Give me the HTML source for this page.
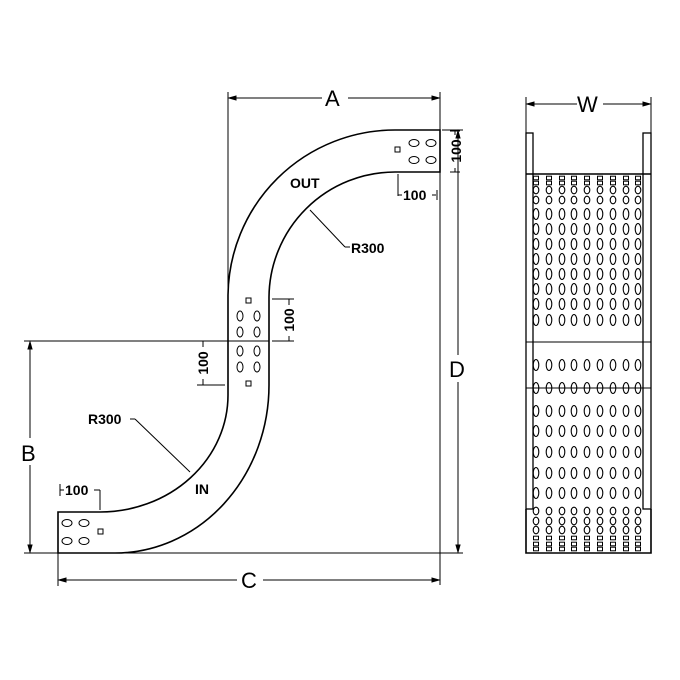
<!DOCTYPE html>
<html><head><meta charset="utf-8"><style>
html,body{margin:0;padding:0;background:#fff}
svg{display:block}
text{font-family:"Liberation Sans",Arial,sans-serif;fill:#000}
</style></head><body>
<svg width="680" height="680" viewBox="0 0 680 680" xmlns="http://www.w3.org/2000/svg">
<defs>
<ellipse id="t" cx="0" cy="0" rx="2.8" ry="5.5" fill="none" stroke="#000" stroke-width="1.1"/>
<ellipse id="m" cx="0" cy="0" rx="2.8" ry="3.8" fill="none" stroke="#000" stroke-width="1.1"/>
<rect id="s" x="-2.5" y="-1.8" width="5" height="3.6" fill="none" stroke="#000" stroke-width="1"/>
<g id="rowT"><use href="#t" x="536"/><use href="#t" x="549"/><use href="#t" x="562"/><use href="#t" x="574"/><use href="#t" x="587"/><use href="#t" x="600"/><use href="#t" x="613"/><use href="#t" x="626"/><use href="#t" x="638"/></g>
<g id="rowM"><use href="#m" x="536"/><use href="#m" x="549"/><use href="#m" x="562"/><use href="#m" x="574"/><use href="#m" x="587"/><use href="#m" x="600"/><use href="#m" x="613"/><use href="#m" x="626"/><use href="#m" x="638"/></g>
<g id="rowS"><use href="#s" x="536"/><use href="#s" x="549"/><use href="#s" x="562"/><use href="#s" x="574"/><use href="#s" x="587"/><use href="#s" x="600"/><use href="#s" x="613"/><use href="#s" x="626"/><use href="#s" x="638"/></g>
</defs>
<g fill="none" stroke="#000" stroke-width="1.6">
<path d="M228,341 L228,295 A167,167 0 0 1 395,130 L440,130 L440,172 L395,172 A126,126 0 0 0 269,297 L269,341"/>
<path d="M228,341 L228,395 A128,117 0 0 1 100,512 L58,512 L58,553 L115,553 A154,168 0 0 0 269,385 L269,341"/>
<line x1="228" y1="341" x2="269" y2="341" stroke-width="1"/>
</g>
<g fill="none" stroke="#000" stroke-width="1">
<line x1="228" y1="92" x2="228" y2="295"/>
<line x1="440" y1="92" x2="440" y2="130"/>
<line x1="229" y1="98" x2="322" y2="98"/><line x1="348" y1="98" x2="439" y2="98"/>
<path d="M229,98 l7,-2 v4z M439,98 l-7,-2 v4z" fill="#000"/>
<line x1="442" y1="130" x2="463" y2="130"/>
<line x1="115" y1="553" x2="463" y2="553"/>
<line x1="440" y1="172" x2="440" y2="585"/>
<line x1="458" y1="131" x2="458" y2="355"/><line x1="458" y1="382" x2="458" y2="552"/>
<path d="M458,131 l-2,7 h4z M458,552 l-2,-7 h4z" fill="#000"/>
<line x1="24" y1="341" x2="228" y2="341"/>
<line x1="24" y1="553" x2="58" y2="553"/>
<line x1="30" y1="342" x2="30" y2="438"/><line x1="30" y1="465" x2="30" y2="552"/>
<path d="M30,342 l-2,7 h4z M30,552 l-2,-7 h4z" fill="#000"/>
<line x1="58" y1="553" x2="58" y2="586"/>
<line x1="59" y1="580" x2="237" y2="580"/><line x1="263" y1="580" x2="439" y2="580"/>
<path d="M59,580 l7,-2 v4z M439,580 l-7,-2 v4z" fill="#000"/>
<line x1="526" y1="97" x2="526" y2="133"/><line x1="651" y1="97" x2="651" y2="133"/>
<line x1="527" y1="104" x2="577" y2="104"/><line x1="603" y1="104" x2="650" y2="104"/>
<path d="M527,104 l7,-2 v4z M650,104 l-7,-2 v4z" fill="#000"/>
<line x1="398" y1="174" x2="398" y2="196"/><line x1="398" y1="195" x2="402" y2="195"/><line x1="432" y1="195" x2="436" y2="195"/><line x1="437" y1="190" x2="437" y2="200"/>
<line x1="455" y1="131" x2="455" y2="135"/><line x1="455" y1="168" x2="455" y2="172"/><line x1="450" y1="131" x2="460" y2="131"/><line x1="450" y1="172" x2="460" y2="172"/>
<line x1="272" y1="299" x2="294" y2="299"/><line x1="289" y1="299" x2="289" y2="305"/><line x1="289" y1="336" x2="289" y2="341"/><line x1="272" y1="341" x2="294" y2="341"/>
<line x1="197" y1="385" x2="225" y2="385"/><line x1="203" y1="341" x2="203" y2="347"/><line x1="203" y1="379" x2="203" y2="385"/>
<line x1="100" y1="490" x2="100" y2="510"/><line x1="60" y1="484" x2="60" y2="496"/><line x1="60" y1="490" x2="64" y2="490"/><line x1="94" y1="490" x2="100" y2="490"/>
<line x1="310" y1="210" x2="345" y2="247"/><line x1="345" y1="247" x2="350" y2="247"/>
<line x1="130" y1="419" x2="135" y2="419"/><line x1="135" y1="419" x2="190" y2="472"/>
<rect x="395" y="147" width="5" height="5"/>
<ellipse cx="414" cy="143" rx="5" ry="3.5"/><ellipse cx="431" cy="143" rx="5" ry="3.5"/>
<ellipse cx="414" cy="160" rx="5" ry="3.5"/><ellipse cx="431" cy="160" rx="5" ry="3.5"/>
<rect x="246" y="298" width="5" height="5"/><rect x="246" y="381" width="5" height="5"/>
<ellipse cx="240" cy="316" rx="3" ry="5"/><ellipse cx="257" cy="316" rx="3" ry="5"/>
<ellipse cx="240" cy="332" rx="3" ry="5"/><ellipse cx="257" cy="332" rx="3" ry="5"/>
<ellipse cx="240" cy="351" rx="3" ry="5"/><ellipse cx="257" cy="351" rx="3" ry="5"/>
<ellipse cx="240" cy="367" rx="3" ry="5"/><ellipse cx="257" cy="367" rx="3" ry="5"/>
<ellipse cx="67" cy="523" rx="5" ry="3.5"/><ellipse cx="84" cy="523" rx="5" ry="3.5"/>
<ellipse cx="67" cy="541" rx="5" ry="3.5"/><ellipse cx="84" cy="541" rx="5" ry="3.5"/>
<rect x="98" y="529" width="5" height="5"/>
<rect x="526" y="133" width="7" height="376" stroke-width="1.3"/>
<rect x="643" y="133" width="8" height="376" stroke-width="1.3"/>
<path d="M526,174 H651 M526,509 V553 H651 V509" stroke-width="1.6"/>
<line x1="526" y1="342" x2="651" y2="342"/>
<line x1="526" y1="388" x2="651" y2="388"/>
</g>
<use href="#rowS" y="178"/><use href="#rowS" y="183"/><use href="#rowM" y="190"/><use href="#rowM" y="200"/>
<use href="#rowT" y="214"/><use href="#rowT" y="229"/><use href="#rowT" y="244"/><use href="#rowT" y="259"/>
<use href="#rowT" y="274"/><use href="#rowT" y="289"/><use href="#rowT" y="304"/><use href="#rowT" y="320"/>
<use href="#rowT" y="365"/><use href="#rowT" y="388"/><use href="#rowT" y="411"/><use href="#rowT" y="431"/>
<use href="#rowT" y="452"/><use href="#rowT" y="473"/><use href="#rowT" y="493"/><use href="#rowM" y="511"/>
<use href="#rowM" y="521"/><use href="#rowM" y="530"/><use href="#rowS" y="538"/><use href="#rowS" y="544"/><use href="#rowS" y="549"/>
<g font-size="22">
<text x="325" y="106">A</text>
<text x="449" y="377">D</text>
<text x="21" y="461">B</text>
<text x="241" y="588">C</text>
<text x="577" y="112">W</text>
</g>
<g font-size="14" font-weight="bold">
<text x="290" y="188">OUT</text>
<text x="195" y="494">IN</text>
<text x="351" y="253">R300</text>
<text x="88" y="424">R300</text>
<text x="403" y="200">100</text>
<text x="65" y="495">100</text>
<text transform="translate(461,151) rotate(-90)" text-anchor="middle">100</text>
<text transform="translate(294,320) rotate(-90)" text-anchor="middle">100</text>
<text transform="translate(208,363) rotate(-90)" text-anchor="middle">100</text>
</g>
</svg>
</body></html>
